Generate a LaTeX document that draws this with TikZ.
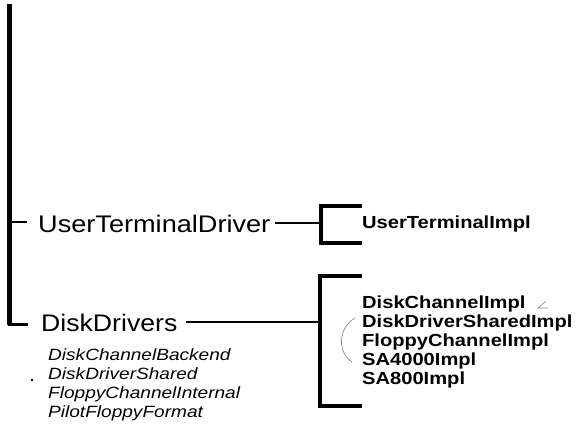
\documentclass[tikz,border=0pt]{standalone}
\usepackage{fontspec}
\setmainfont{Liberation Sans}
\begin{document}
\begin{tikzpicture}[x=1pt,y=-1pt,
  big/.style={anchor=base west,inner sep=0pt,font=\fontsize{24}{28}\selectfont},
  impl/.style={anchor=base west,inner sep=0pt,font=\fontsize{17.5}{20}\selectfont\bfseries},
  sub/.style={anchor=base west,inner sep=0pt,font=\fontsize{16.3}{19}\selectfont\itshape},
  bar/.style={line width=4.5pt},
  brk/.style={line width=3.5pt},
  conn/.style={line width=2.2pt},
  note/.style={line width=0.6pt,gray}]
\useasboundingbox (0,0) rectangle (579,440);
% main vertical bar
\coordinate (top) at (9.5,4);
\coordinate (foot) at (9.5,325);
\draw[bar] (top) -- (foot);
\draw[conn] (7.5,324.5) -- (28,324.5);
\draw[conn] (12,222) -- (27,222);
% main labels
\node[big] (utd) at (38,232) {\scalebox{1.13}[1]{UserTerminalDriver}};
\node[big] (dd) at (41,331) {\scalebox{1.11}[1]{DiskDrivers}};
% sub labels
\node[sub] (s1) at (48,360) {\scalebox{1.17}[1]{DiskChannelBackend}};
\node[sub] (s2) at (48,379) {\scalebox{1.17}[1]{DiskDriverShared}};
\node[sub] (s3) at (48,398) {\scalebox{1.17}[1]{FloppyChannelInternal}};
\node[sub] (s4) at (48,417) {\scalebox{1.17}[1]{PilotFloppyFormat}};
\fill (32,380) circle (1.3);
% bracket 1
\coordinate (b1) at (321,223);
\draw[brk] (362,206) -- (321,206) -- (321,243) -- (362,243);
\node[impl] (uti) at (362,228) {\scalebox{1.15}[1]{UserTerminalImpl}};
% bracket 2
\coordinate (b2) at (320,322);
\draw[brk,line width=4pt] (362,276) -- (320,276) -- (320,406) -- (362,406);
\node[impl] (i1) at (362,308) {\scalebox{1.15}[1]{DiskChannelImpl}};
\node[impl] (i2) at (362,327) {\scalebox{1.15}[1]{DiskDriverSharedImpl}};
\node[impl] (i3) at (362,346) {\scalebox{1.15}[1]{FloppyChannelImpl}};
\node[impl] (i4) at (362,365) {\scalebox{1.15}[1]{SA4000Impl}};
\node[impl] (i5) at (362,384) {\scalebox{1.15}[1]{SA800Impl}};
% connectors
\draw[conn] ([xshift=5pt]utd.east |- b1) -- (b1);
\draw[conn] ([xshift=8pt]dd.east |- b2) -- (b2);
% handwritten marks
\draw[note] (355,318) .. controls (338,328) and (337,352) .. (352,362);
\draw[note] (546,301) -- (538,308) -- (548,308);
\end{tikzpicture}
\end{document}
